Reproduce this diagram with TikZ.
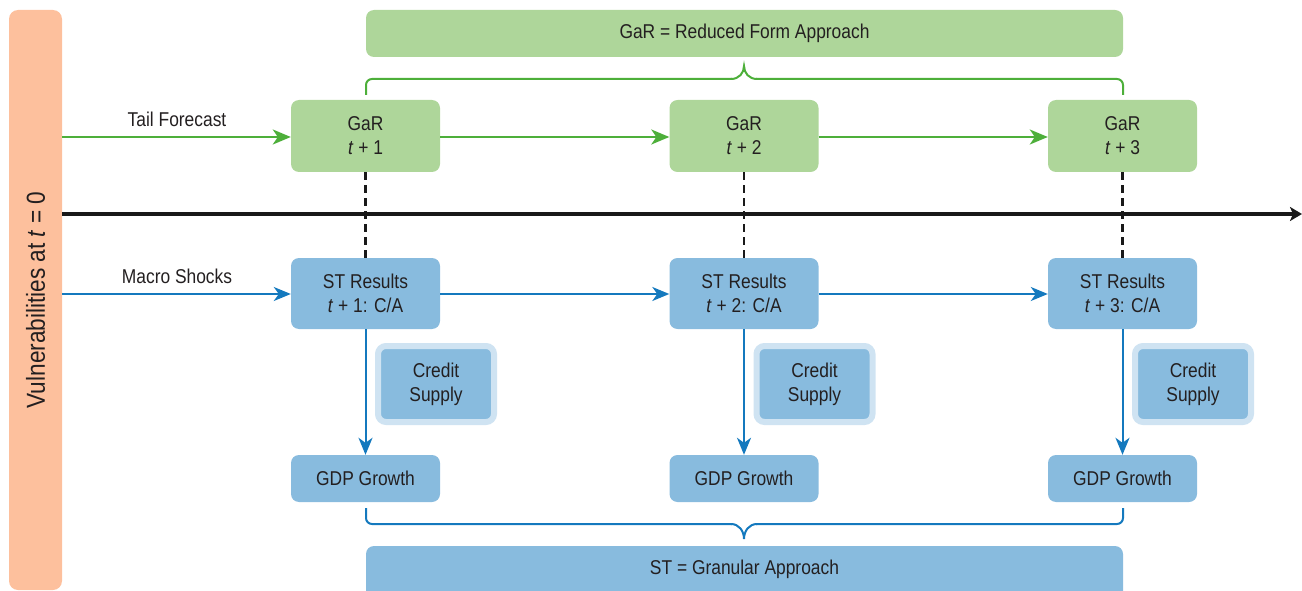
\documentclass[tikz,border=0pt]{standalone}
\usepackage{fontspec}
\setmainfont{Liberation Sans}[FakeStretch=0.87]
\usetikzlibrary{arrows.meta,calc}
\definecolor{orng}{HTML}{FDC09D}
\definecolor{gfill}{HTML}{AED69A}
\definecolor{gline}{HTML}{4DAF3A}
\definecolor{bfill}{HTML}{88BBDE}
\definecolor{bline}{HTML}{1479BE}
\definecolor{halo}{HTML}{CFE3F2}
\definecolor{txt}{HTML}{231F20}
\begin{document}
\begin{tikzpicture}[x=1pt,y=-1pt,
  every node/.style={font=\fontsize{20}{24}\selectfont, text=txt, inner sep=0pt},
  gbox/.style={fill=gfill, rounded corners=8pt, minimum width=149pt, minimum height=72pt, align=center},
  sbox/.style={fill=bfill, rounded corners=8pt, minimum width=149pt, minimum height=71pt, align=center},
  dbox/.style={fill=bfill, rounded corners=8pt, minimum width=149pt, minimum height=47pt, align=center},
  cbox/.style={fill=bfill, rounded corners=8pt, minimum width=116pt, minimum height=76pt, align=center,
     draw=halo, line width=6pt},
  banner/.style={rounded corners=8pt, minimum width=757pt, align=center},
  garrow/.style={draw=gline, line width=2pt, -{Stealth[length=18pt,width=15pt,inset=5pt]}},
  barrow/.style={draw=bline, line width=2pt, -{Stealth[length=17pt,width=14pt,inset=5pt]}},
  axisline/.style={draw=black!90, line width=4pt, -{Stealth[length=12pt,width=14pt,inset=3pt]}},
  dashline/.style={draw=black!90, line width=2.5pt, dash pattern=on 8pt off 5pt},
  gbrace/.style={draw=gline, line width=2pt},
  bbrace/.style={draw=bline, line width=2pt},
  lbl/.style={font=\fontsize{20}{22}\selectfont}
]
\useasboundingbox (0,0) rectangle (1302,591);

% left bar
\node[fill=orng, rounded corners=9pt, minimum width=580pt, minimum height=53pt, rotate=90,
      font=\fontsize{26}{28}\selectfont] (vul) at (35.5,300) {Vulnerabilities at \textit{t} = 0};

% banners
\node[banner, fill=gfill, minimum height=47pt] (gban) at (744.5,33.5) {GaR = Reduced Form Approach};
\node[banner, fill=bfill, minimum height=60pt] (sban) at (744.5,576) {};
\node (stt) at (744.5,569.5) {ST = Granular Approach};

% GaR boxes
\node[gbox] (g1) at (365.5,136) {GaR\\\textit{t} + 1};
\node[gbox] (g2) at (744,136) {GaR\\\textit{t} + 2};
\node[gbox] (g3) at (1122.5,136) {GaR\\\textit{t} + 3};

% ST boxes
\node[sbox] (s1) at (365.5,293.5) {ST Results\\\textit{t} + 1: C/A};
\node[sbox] (s2) at (744,293.5) {ST Results\\\textit{t} + 2: C/A};
\node[sbox] (s3) at (1122.5,293.5) {ST Results\\\textit{t} + 3: C/A};

% Credit supply
\node[cbox] (c1) at (436,384) {Credit\\Supply};
\node[cbox] (c2) at (814.5,384) {Credit\\Supply};
\node[cbox] (c3) at (1193,384) {Credit\\Supply};

% GDP growth
\node[dbox] (d1) at (365.5,478.5) {GDP Growth};
\node[dbox] (d2) at (744,478.5) {GDP Growth};
\node[dbox] (d3) at (1122.5,478.5) {GDP Growth};

% axis
\coordinate (axL) at (62,214);
\coordinate (axR) at (1302,214);
\draw[axisline] (axL) -- (axR);

% dashed links
\draw[dashline] (g1.south) -- (s1.north);
\draw[dashline] (g2.south) -- (s2.north);
\draw[dashline] (g3.south) -- (s3.north);

% green arrows
\coordinate (gstart) at (62,137);
\draw[garrow] (gstart) -- (g1.west |- gstart);
\draw[garrow] (g1.east |- gstart) -- (g2.west |- gstart);
\draw[garrow] (g2.east |- gstart) -- (g3.west |- gstart);
\node[lbl] (tf) at (177,119) {Tail Forecast};

% blue arrows
\coordinate (bstart) at (62,294);
\draw[barrow] (bstart) -- (s1.west |- bstart);
\draw[barrow] (s1.east |- bstart) -- (s2.west |- bstart);
\draw[barrow] (s2.east |- bstart) -- (s3.west |- bstart);
\node[lbl] (ms) at (177,276) {Macro Shocks};

% vertical arrows
\draw[barrow] (s1) -- (d1);
\draw[barrow] (s2) -- (d2);
\draw[barrow] (s3) -- (d3);

% green brace
\draw[gbrace, rounded corners=6pt] (366,95) |- (732,79);
\draw[gbrace] (731,79) .. controls (739,79) and (744,73) .. (744,66)
  .. controls (744,73) and (749,79) .. (757,79);
\draw[gbrace, rounded corners=6pt] (756,79) -| (1123,95);

% blue brace
\draw[bbrace, rounded corners=6pt] (366,508) |- (732,524);
\draw[bbrace] (731,524) .. controls (739,524) and (744,531) .. (744,539)
  .. controls (744,531) and (749,524) .. (757,524);
\draw[bbrace, rounded corners=6pt] (756,524) -| (1123,508);
\end{tikzpicture}
\end{document}
